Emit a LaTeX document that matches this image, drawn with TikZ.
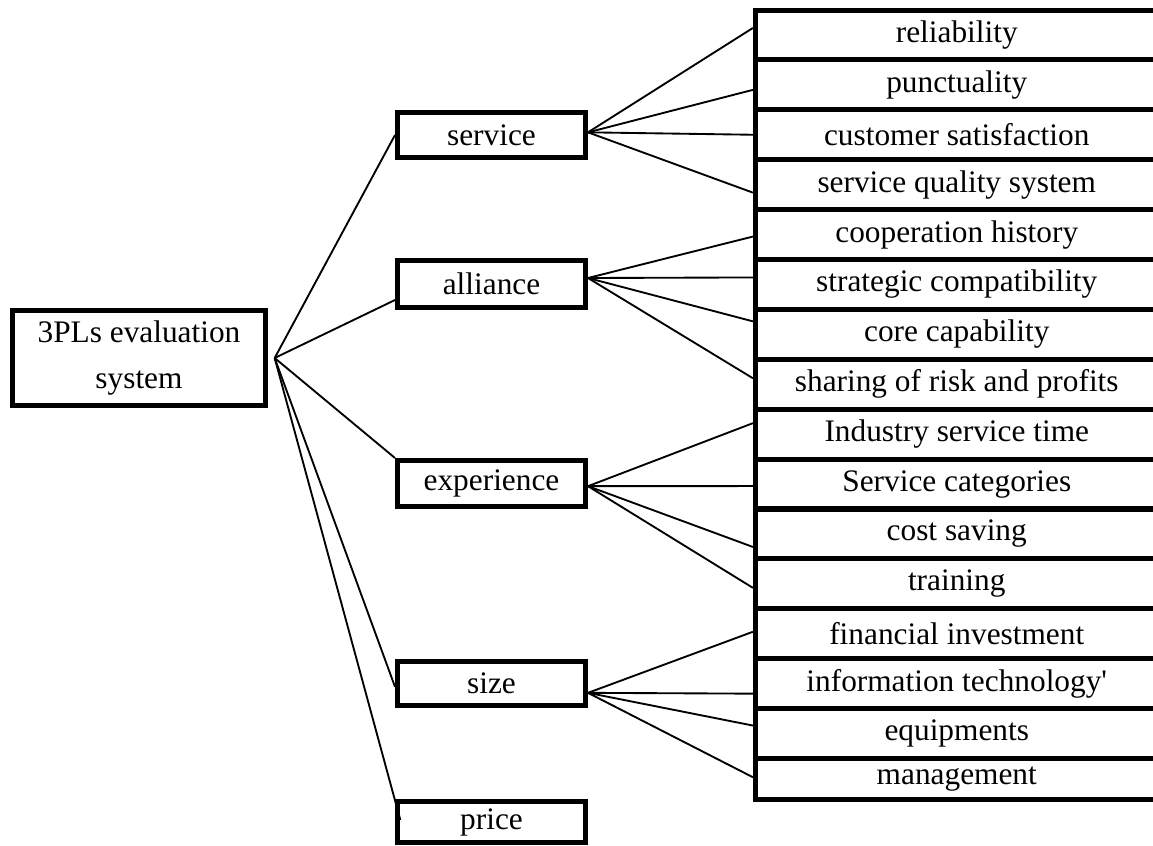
\documentclass[tikz,border=0pt]{standalone}
\usepackage{fontspec}
\setmainfont{Liberation Serif}

\begin{document}
\begin{tikzpicture}[x=0.75pt,y=-0.75pt,font=\fontsize{23.5}{34}\selectfont,
    box/.style={draw,line width=3.75pt,inner sep=0pt,minimum width=141pt},
    item/.style={draw,line width=3.75pt,inner sep=0pt,minimum width=302pt,minimum height=37.4pt},
    link/.style={line width=1.4pt}]
    \useasboundingbox (0,0) rectangle (1153,846);
    \clip (0,0) rectangle (1153,846);
    % root and criteria
    \node [box,align=center,minimum width=189.75pt,minimum height=71.25pt] (root) at (139,358) {3PLs evaluation\\system};%
    \node [box,minimum height=33.75pt] (service) at (491.5,135) {service};%
    \node [box,minimum height=35.25pt] (alliance) at (491.5,284) {alliance};%
    \node [box,minimum height=34.5pt] (experience) at (491.5,483.5) {experience};%
    \node [box,minimum height=33pt] (size) at (491.5,683.5) {size};%
    \node [box,minimum height=30.75pt] (price) at (491.5,822) {price};%
    \coordinate (hub) at ([xshift=5pt]root.east);
    % sub-criteria
    \node [item] (reliability) at (956.75,34.95) {reliability};%
    \node [item] (punctuality) at (956.75,84.85) {punctuality};%
    \node [item] (satisfaction) at (956.75,134.75) {customer satisfaction};%
    \node [item] (quality) at (956.75,184.65) {service quality system};%
    \node [item] (history) at (956.75,234.55) {cooperation history};%
    \node [item] (strategic) at (956.75,284.45) {strategic compatibility};%
    \node [item] (core) at (956.75,334.35) {core capability};%
    \node [item] (sharing) at (956.75,384.25) {sharing of risk and profits};%
    \node [item] (industry) at (956.75,434.15) {Industry service time};%
    \node [item] (categories) at (956.75,484.05) {Service categories};%
    \node [item] (cost) at (956.75,533.95) {cost saving};%
    \node [item] (training) at (956.75,583.85) {training};%
    \node [item] (financial) at (956.75,633.75) {financial investment};%
    \node [item] (it) at (956.75,683.65) {information technology\textquotesingle};%
    \node [item] (equipments) at (956.75,733.55) {equipments};%
    \node [item,minimum height=31.1pt] (management) at (956.75,779.25) {management};%
    % root links
    \draw [link] (hub) -- (service.west);
    \draw [link] (hub) -- ([yshift=-12pt]alliance.west);
    \draw [link] (hub) -- (experience.north west);
    \draw [link] (hub) -- ([yshift=-2.5pt]size.west);
    \draw [link] (hub) -- ([xshift=4pt,yshift=1.5pt]price.west);
    % criterion links
    \draw [link] ([yshift=2pt]service.east) -- ([yshift=5.25pt]reliability.west);
    \draw [link] ([yshift=2pt]service.east) -- ([yshift=-3.75pt]punctuality.west);
    \draw [link] ([yshift=2pt]service.east) -- (satisfaction.west);
    \draw [link] ([yshift=2pt]service.east) -- ([yshift=-6pt]quality.west);
    \draw [link] ([yshift=4.5pt]alliance.east) -- ([yshift=-1.5pt]history.west);
    \draw [link] ([yshift=4.5pt]alliance.east) -- ([yshift=5.25pt]strategic.west);
    \draw [link] ([yshift=4.5pt]alliance.east) -- ([yshift=9.75pt]core.west);
    \draw [link] ([yshift=4.5pt]alliance.east) -- ([yshift=4.5pt]sharing.west);
    \draw [link] ([yshift=-2pt]experience.east) -- ([yshift=8.25pt]industry.west);
    \draw [link] ([yshift=-2pt]experience.east) -- ([yshift=-1.5pt]categories.west);
    \draw [link] ([yshift=-2pt]experience.east) -- ([yshift=-9.75pt]cost.west);
    \draw [link] ([yshift=-2pt]experience.east) -- ([yshift=-3pt]training.west);
    \draw [link] ([yshift=-7pt]size.east) -- ([yshift=1.5pt]financial.west);
    \draw [link] ([yshift=-7pt]size.east) -- ([yshift=-7.5pt]it.west);
    \draw [link] ([yshift=-7pt]size.east) -- ([yshift=6pt]equipments.west);
    \draw [link] ([yshift=-7pt]size.east) -- ([yshift=1.5pt]management.west);
\end{tikzpicture}
\end{document}
